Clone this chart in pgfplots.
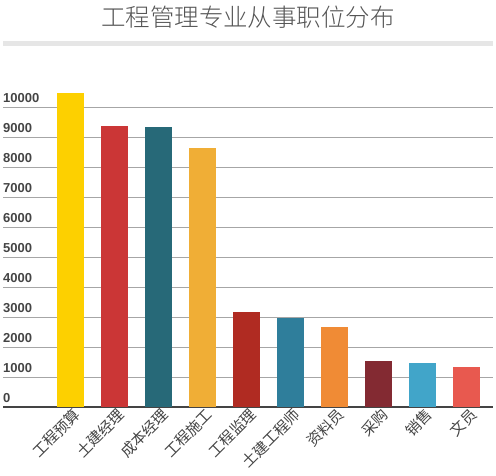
\documentclass[border=0pt]{standalone}
\usepackage{fontspec}
\setmainfont{Liberation Sans}
\newfontfamily\cjk{Noto Sans CJK SC}
\newfontfamily\cjklight{Noto Sans CJK SC Light}
\usepackage{pgfplots}
\pgfplotsset{compat=1.18}

\definecolor{titlegray}{HTML}{555555}
\definecolor{bandgray}{HTML}{E6E6E6}
\definecolor{gridgray}{HTML}{A6A6A6}
\definecolor{axisdark}{HTML}{444444}
\definecolor{c1}{HTML}{FDD000}
\definecolor{c2}{HTML}{CB3636}
\definecolor{c3}{HTML}{276978}
\definecolor{c4}{HTML}{F0AE36}
\definecolor{c5}{HTML}{B02B22}
\definecolor{c6}{HTML}{2F7E9B}
\definecolor{c7}{HTML}{F08B35}
\definecolor{c8}{HTML}{832A32}
\definecolor{c9}{HTML}{41A5C9}
\definecolor{c10}{HTML}{E8594F}

\begin{document}
\begin{tikzpicture}
\useasboundingbox (0pt,0pt) rectangle (496pt,475pt);
% title and grey band under it
\node[font=\cjklight\fontsize{24.5}{24.5}\selectfont, text=titlegray] at (248pt,458pt) {工程管理专业从事职位分布};
\fill[bandgray] (3pt,429.3pt) rectangle (493pt,434.3pt);

\begin{axis}[
    at={(3pt,67.7pt)}, anchor=south west,
    scale only axis,
    width=490pt, height=330pt,
    xmin=-1.534, xmax=9.602,
    ymin=0, ymax=11000,
    axis line style={draw=none},
    major tick length=0pt,
    ybar, bar width=27pt,
    ymajorgrids,
    grid style={gridgray, line width=0.8pt},
    ytick={0,1000,...,10000},
    extra y ticks={0},
    extra y tick labels={},
    extra y tick style={grid style={axisdark, line width=2pt}},
    /pgf/number format/assume math mode=true,
    scaled y ticks=false,
    yticklabel={\pgfmathprintnumber[fixed,1000 sep={}]{\tick}},
    yticklabel style={anchor=south west, inner sep=0pt, yshift=4pt,
        font=\bfseries\fontsize{13}{13}\selectfont, text=axisdark},
    xtick={0,...,9},
    xticklabels={工程预算,土建经理,成本经理,工程施工,工程监理,土建工程师,资料员,采购,销售,文员},
    xticklabel style={rotate=45, anchor=north east, inner sep=1pt, xshift=3pt,
        font=\cjk\fontsize{15}{15}\selectfont, text=axisdark},
]
\addplot[fill=c1, draw=none, bar shift=0pt] coordinates {(0,10490)};
\addplot[fill=c2, draw=none, bar shift=0pt] coordinates {(1,9390)};
\addplot[fill=c3, draw=none, bar shift=0pt] coordinates {(2,9340)};
\addplot[fill=c4, draw=none, bar shift=0pt] coordinates {(3,8650)};
\addplot[fill=c5, draw=none, bar shift=0pt] coordinates {(4,3180)};
\addplot[fill=c6, draw=none, bar shift=0pt] coordinates {(5,2990)};
\addplot[fill=c7, draw=none, bar shift=0pt] coordinates {(6,2680)};
\addplot[fill=c8, draw=none, bar shift=0pt] coordinates {(7,1540)};
\addplot[fill=c9, draw=none, bar shift=0pt] coordinates {(8,1480)};
\addplot[fill=c10, draw=none, bar shift=0pt] coordinates {(9,1340)};
\end{axis}
\end{tikzpicture}
\end{document}
